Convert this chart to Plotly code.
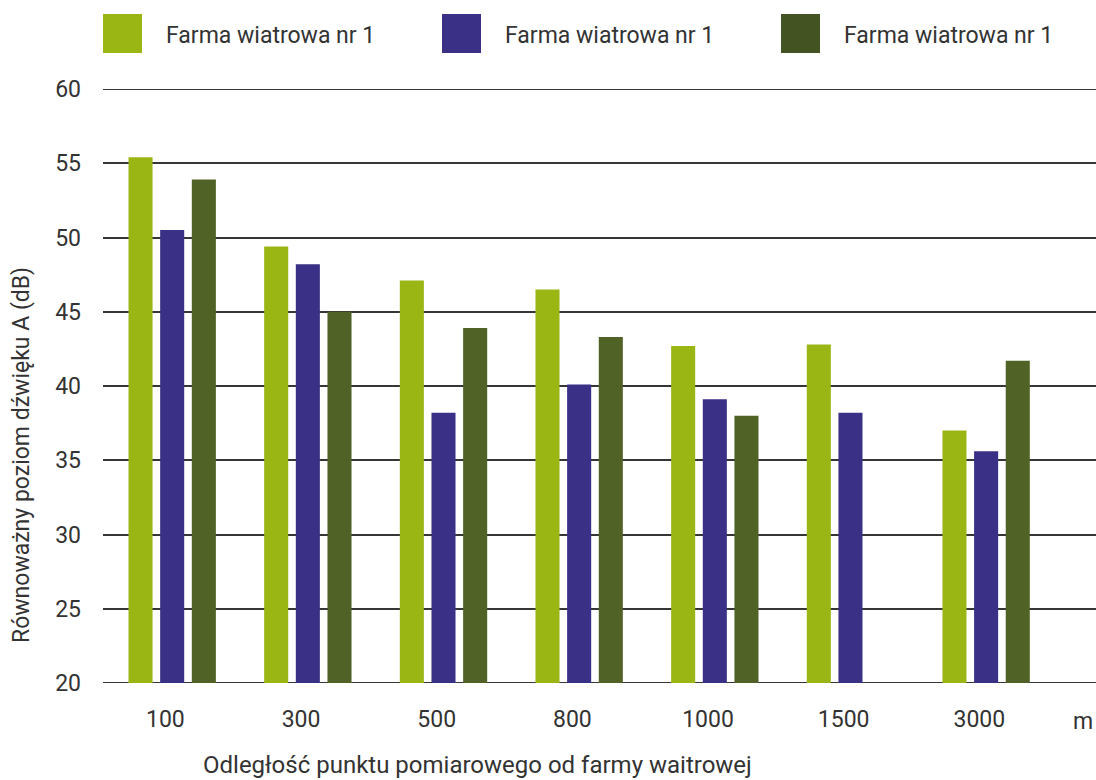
import plotly.graph_objects as go

# Measurement distances (m) and equivalent A-weighted sound levels (dB)
distances = ["100", "300", "500", "800", "1000", "1500", "3000"]
series_names = ["Farma wiatrowa nr 1", "Farma wiatrowa nr 1", "Farma wiatrowa nr 1"]
farm_a = [55.4, 49.4, 47.1, 46.5, 42.7, 42.8, 37.0]
farm_b = [50.5, 48.2, 38.2, 40.1, 39.1, 38.2, 35.6]
farm_c = [53.9, 45.0, 43.9, 43.3, 38.0, None, 41.7]
y_ticks = [20, 25, 30, 35, 40, 45, 50, 55, 60]

bar_colors = ["#9AB614", "#3A3186", "#506225"]
legend_colors = ["#9AB614", "#3A3186", "#435322"]
text_color = "#333333"
grid_color = "#363636"
font_family = "Roboto, 'Open Sans', sans-serif"

W, H = 1096, 780
ML, MR, MT, MB = 103, 0, 89, 97
PW, PH = W - ML - MR, H - MT - MB


def px_x(px):
    return (px - ML) / PW


def px_y(py):
    return (H - MB - py) / PH


positions = list(range(len(distances)))

fig = go.Figure()
for name, vals, col in zip(series_names, [farm_a, farm_b, farm_c], bar_colors):
    fig.add_trace(go.Bar(
        x=positions, y=[v if v is None else v - 20 for v in vals], base=20,
        name=name, marker=dict(color=col, line=dict(width=0)),
        showlegend=False, hoverinfo="skip",
    ))

shapes = []
annotations = []

# Grid lines at the range ends (plotly skips those on the boundary)
for yv in (y_ticks[0], y_ticks[-1]):
    shapes.append(dict(type="line", xref="paper", yref="y", x0=0, x1=1, y0=yv, y1=yv,
                       line=dict(color=grid_color, width=2), layer="below"))

# Legend: large colour squares with labels across the top
legend_x = [103, 442, 781]
for lx, col, name in zip(legend_x, legend_colors, series_names):
    shapes.append(dict(type="rect", xref="paper", yref="paper",
                       x0=px_x(lx), x1=px_x(lx + 39), y0=px_y(53), y1=px_y(14),
                       fillcolor=col, line=dict(width=0), layer="above"))
    annotations.append(dict(xref="paper", yref="paper", x=px_x(lx + 61), y=px_y(36),
                            text=name, showarrow=False, xanchor="left", yanchor="middle",
                            font=dict(size=23, color=text_color, family=font_family)))

annotations.append(dict(xref="paper", yref="paper", x=px_x(21), y=px_y(455),
                        text="Równoważny poziom dźwięku A (dB)", textangle=-90,
                        showarrow=False, xanchor="center", yanchor="middle",
                        font=dict(size=23, color=text_color, family=font_family)))
annotations.append(dict(xref="paper", yref="paper", x=px_x(477), y=px_y(781),
                        text="Odległość punktu pomiarowego od farmy waitrowej",
                        showarrow=False, xanchor="center", yanchor="bottom",
                        font=dict(size=24, color=text_color, family=font_family)))
annotations.append(dict(xref="paper", yref="paper", x=px_x(1083), y=px_y(721),
                        text="m", showarrow=False, xanchor="center", yanchor="middle",
                        font=dict(size=23, color=text_color, family=font_family)))

fig.update_layout(
    width=W, height=H,
    margin=dict(l=ML, r=MR, t=MT, b=MB, pad=0),
    paper_bgcolor="white", plot_bgcolor="white",
    barmode="group", bargap=0.30, bargroupgap=0.24,
    font=dict(family=font_family, size=23, color=text_color),
    xaxis=dict(
        range=[-0.51, 6.81], tickmode="array",
        tickvals=[p - 0.05 for p in positions], ticktext=distances,
        showgrid=False, zeroline=False, showline=False, ticks="",
        ticklabelstandoff=20, tickfont=dict(size=23, color=text_color),
    ),
    yaxis=dict(
        range=[20, 60], tickmode="array", tickvals=y_ticks,
        showgrid=True, gridcolor=grid_color, gridwidth=2,
        zeroline=False, showline=False, ticks="",
        ticklabelstandoff=21, tickfont=dict(size=23, color=text_color),
    ),
    shapes=shapes, annotations=annotations,
)

fig.write_html("out.html")
